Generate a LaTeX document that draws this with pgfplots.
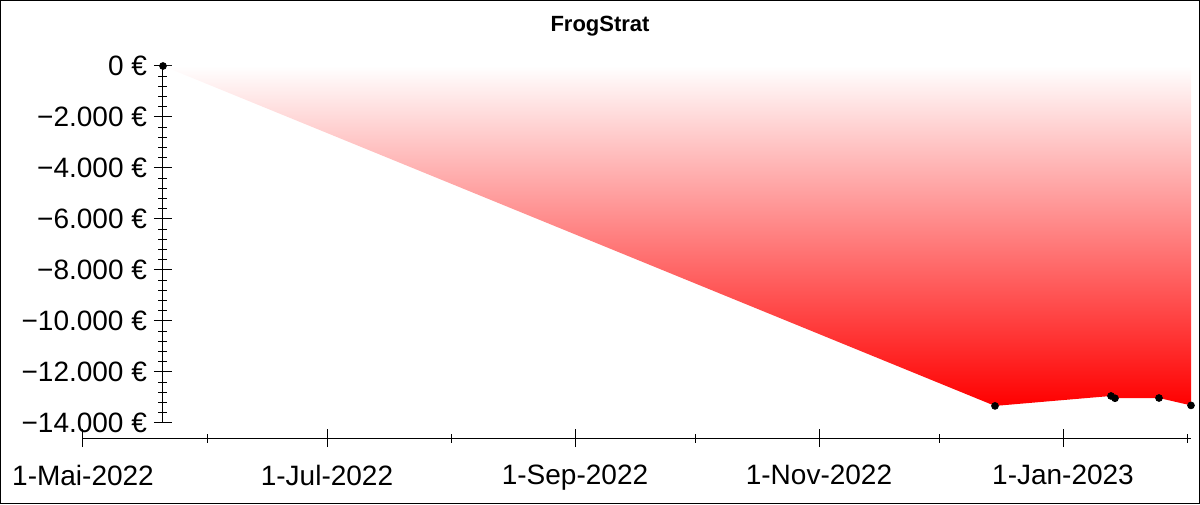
\documentclass[border=0pt]{standalone}
\usepackage{pgfplots}
\pgfplotsset{compat=1.18}
\usepackage{fontspec}
\setmainfont{Liberation Sans}
\pgfplotstableread{
day value
20 0
228 -13330
257 -12940
258 -13030
269 -13020
277 -13310
}\equity
\begin{document}
\begin{tikzpicture}
\useasboundingbox (0,0) rectangle (600pt,252pt);
\draw[line width=0.6pt] (0.3pt,0.3pt) rectangle (599.7pt,251.7pt);
\node[font=\fontsize{11}{13}\selectfont\bfseries] at (300pt,239pt) {FrogStrat};
\begin{axis}[
 at={(41.5pt,33pt)}, anchor=south west,
 scale only axis, width=554pt, height=186pt,
 xmin=0, xmax=277, ymin=-14588, ymax=0,
 axis y line=none, axis x line=bottom, axis line style={-, line width=0.5pt},
 xtick={0,61,123,184,245},
 xticklabels={1-Mai-2022,1-Jul-2022,1-Sep-2022,1-Nov-2022,1-Jan-2023},
 minor xtick={31,92,153,214,276},
 tick align=center, major tick length=9pt, minor tick length=4.5pt,
 tick style={black, line width=0.5pt},
 xticklabel style={font=\fontsize{14}{16}\selectfont, yshift=-5.5pt},
 scaled ticks=false,
]
\end{axis}
\begin{axis}[
 at={(81.5pt,40.5pt)}, anchor=south west,
 scale only axis, width=514pt, height=178.5pt,
 xmin=20, xmax=277, ymin=-14000, ymax=0,
 axis x line=none, axis y line=left, axis line style={-, line width=0.5pt},
 ytick={-14000,-12000,-10000,-8000,-6000,-4000,-2000,0},
 yticklabels={−14.000~€,−12.000~€,−10.000~€,−8.000~€,−6.000~€,−4.000~€,−2.000~€,0~€},
 minor y tick num=4,
 scaled ticks=false,
 tick align=center, major tick length=9pt, minor tick length=4.5pt,
 tick style={black, line width=0.5pt},
 yticklabel style={font=\fontsize{14}{16}\selectfont},
 clip=false,
]
\addplot[draw=none, shade, top color=white, bottom color=red] table[x=day, y=value] {\equity} \closedcycle;
\addplot[only marks, mark=*, mark size=1.7pt, black] table[x=day, y=value] {\equity};
\end{axis}
\end{tikzpicture}
\end{document}
